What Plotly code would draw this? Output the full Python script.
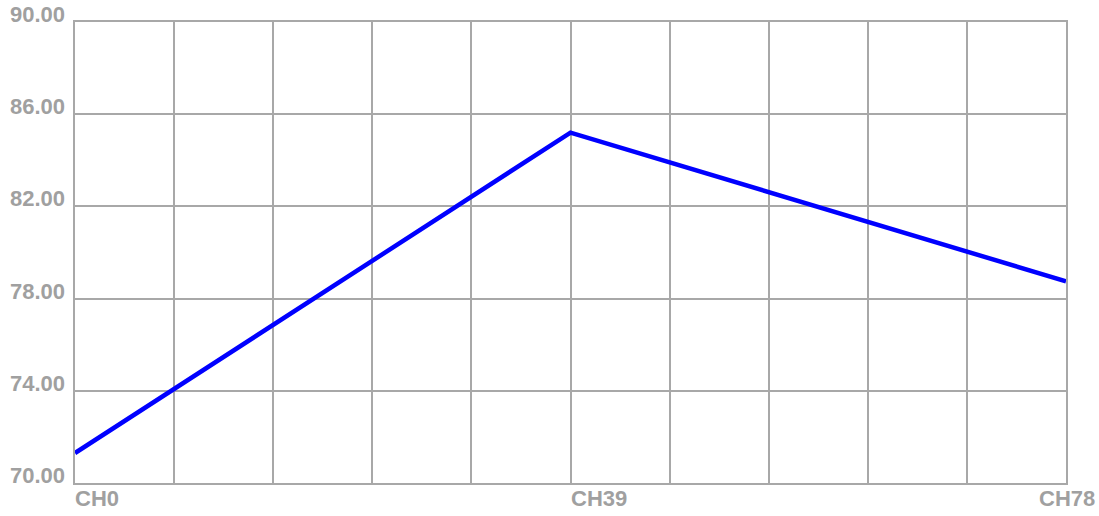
import plotly.graph_objects as go

channels = [0, 39, 78]
channel_labels = ["CH0", "CH39", "CH78"]
values = [71.3, 85.2, 78.75]
y_ticks = [70, 74, 78, 82, 86, 90]

font_family = "Liberation Sans, Arial, sans-serif"
label_color = "#a0a0a0"
grid_color = "#a8a8a8"
label_font = dict(family=font_family, size=22, color=label_color)

fig = go.Figure()
fig.add_trace(go.Scatter(x=channels, y=values, mode="lines",
                         line=dict(color="#0000ff", width=4.5), hoverinfo="skip"))

annotations = []
for v in y_ticks:
    annotations.append(dict(x=0, y=v, xref="paper", yref="y", text=f"<b>{v:.2f}</b>",
                            showarrow=False, xanchor="right", yanchor="bottom",
                            xshift=-8, yshift=-7, font=label_font))
anchors = ["left", "left", "center"]
for c, lab, a in zip(channels, channel_labels, anchors):
    annotations.append(dict(x=c, y=0, xref="x", yref="paper", text=f"<b>{lab}</b>",
                            showarrow=False, xanchor=a, yanchor="top", yshift=-1,
                            xshift=-2 if a == "left" else 1, font=label_font))

fig.update_layout(
    width=1099, height=516,
    margin=dict(l=75, r=33, t=22, b=33),
    paper_bgcolor="white", plot_bgcolor="white",
    showlegend=False,
    hovermode=False,
    annotations=annotations,
    xaxis=dict(range=[0, 78], tick0=0, dtick=7.8, showgrid=True, gridcolor=grid_color,
               gridwidth=2, showticklabels=False, zeroline=False, showline=True,
               linecolor=grid_color, linewidth=2, mirror=True, ticks=""),
    yaxis=dict(range=[70, 90], tick0=70, dtick=4, showgrid=True, gridcolor=grid_color,
               gridwidth=2, showticklabels=False, zeroline=False, showline=True,
               linecolor=grid_color, linewidth=2, mirror=True, ticks=""),
)

fig.write_html("out.html", config={"displayModeBar": False, "staticPlot": True},
               post_script="document.body.style.margin='0';document.body.style.overflow='hidden';")
